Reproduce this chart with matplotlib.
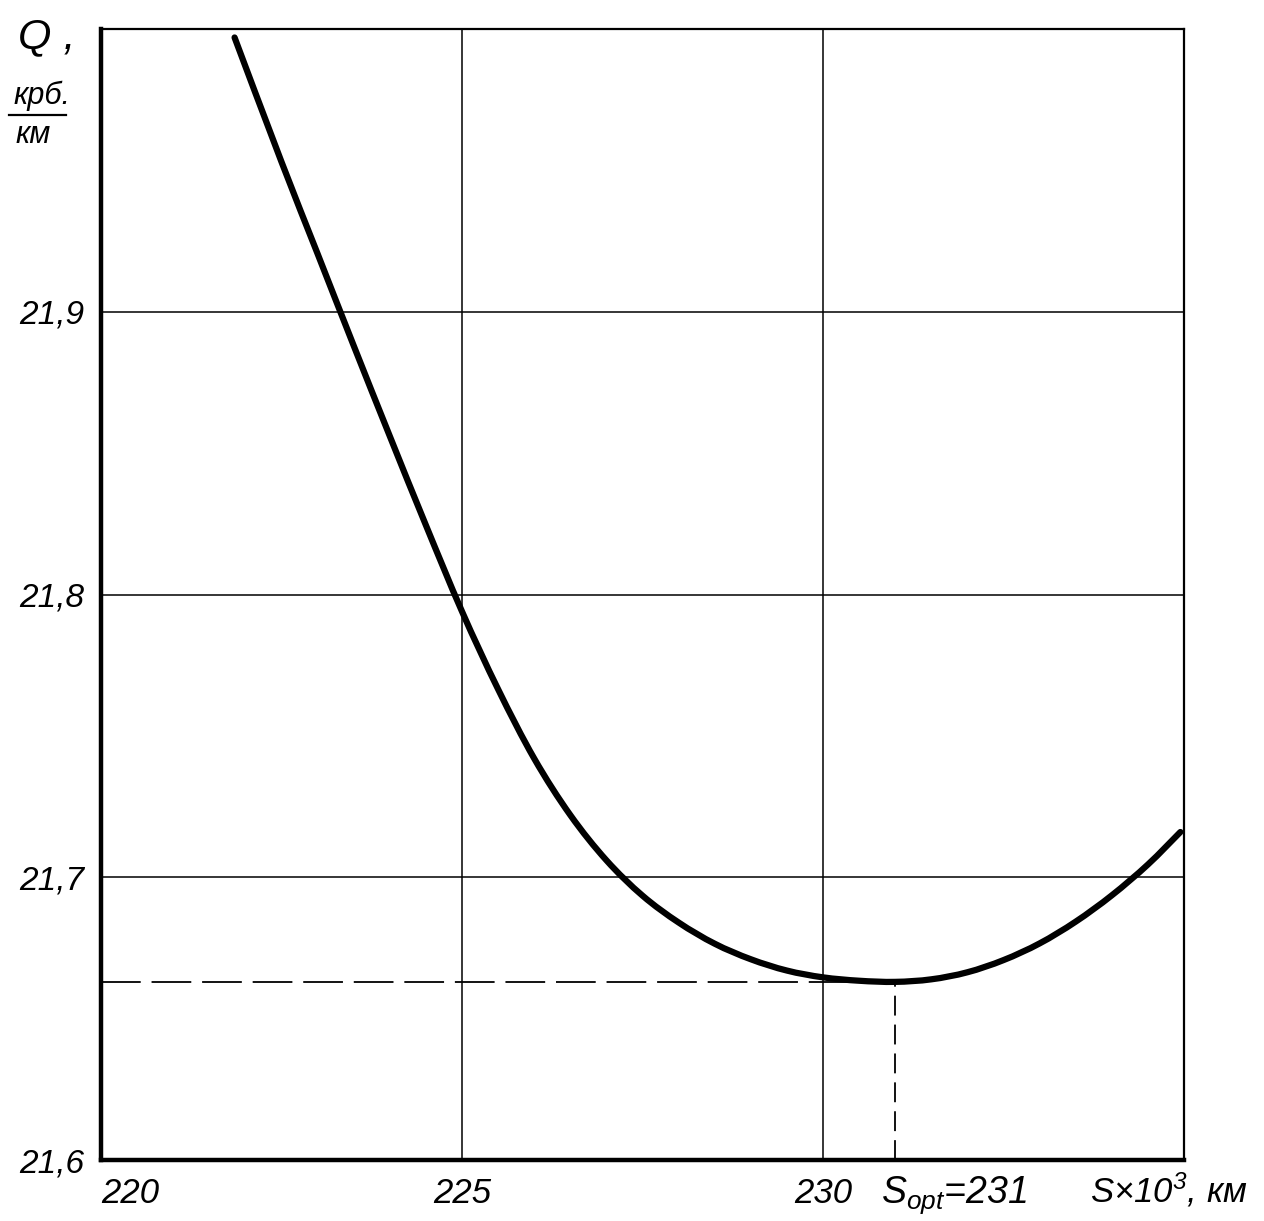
import matplotlib
matplotlib.use("Agg")
import matplotlib.pyplot as plt
from matplotlib.path import Path
from matplotlib.patches import PathPatch

# ---- data -------------------------------------------------------------
S_km = [221.85, 222.5, 223.0, 223.5, 224.0, 224.5, 225.0, 225.5, 226.0,
        226.5, 227.0, 227.5, 228.0, 228.5, 229.0, 229.5, 230.0, 230.5,
        231.0, 231.5, 232.0, 232.5, 233.0, 233.5, 234.0, 234.5, 234.95]
Q_cost = [21.997, 21.953, 21.9205, 21.888, 21.856, 21.8245, 21.794, 21.7665,
          21.742, 21.722, 21.706, 21.6935, 21.684, 21.6765, 21.671, 21.667,
          21.6646, 21.6634, 21.663, 21.6639, 21.6664, 21.6707, 21.6766,
          21.6843, 21.6936, 21.7045, 21.716]
S_opt = 231
Q_min = 21.663

x_ticks = [220, 225, 230]
x_tick_labels = ["220", "225", "230"]
y_ticks = [21.6, 21.7, 21.8, 21.9]
y_tick_labels = ["21,6", "21,7", "21,8", "21,9"]
x_range = (220, 235)
y_range = (21.6, 22.0)

# ---- fonts ------------------------------------------------------------
FONT = "Liberation Sans"
plt.rcParams["font.family"] = [FONT, "DejaVu Sans"]
plt.rcParams["font.style"] = "italic"
plt.rcParams["mathtext.fontset"] = "custom"
plt.rcParams["mathtext.rm"] = f"{FONT}:italic"
plt.rcParams["mathtext.it"] = f"{FONT}:italic"
plt.rcParams["mathtext.sf"] = f"{FONT}:italic"


def smooth_path(xs, ys):
    """Catmull-Rom curve through the given points as cubic Bezier segments."""
    pts = list(zip(xs, ys))
    verts = [pts[0]]
    codes = [Path.MOVETO]
    n = len(pts)
    for i in range(n - 1):
        p0 = pts[i - 1] if i > 0 else pts[i]
        p1 = pts[i]
        p2 = pts[i + 1]
        p3 = pts[i + 2] if i + 2 < n else pts[i + 1]
        c1 = (p1[0] + (p2[0] - p0[0]) / 6, p1[1] + (p2[1] - p0[1]) / 6)
        c2 = (p2[0] - (p3[0] - p1[0]) / 6, p2[1] - (p3[1] - p1[1]) / 6)
        verts += [c1, c2, p2]
        codes += [Path.CURVE4] * 3
    return Path(verts, codes)


W, H = 1264, 1221
fig = plt.figure(figsize=(W / 100, H / 100), dpi=100)
fig.patch.set_facecolor("white")

L, R, T, B = 101, 1184, 29, 1160
ax = fig.add_axes([L / W, 1 - B / H, (R - L) / W, (B - T) / H])
ax.set_xlim(*x_range)
ax.set_ylim(*y_range)

# frame: heavy axes on left/bottom, light border on top/right
for side, lw in (("left", 3.2), ("bottom", 3.2), ("top", 1.6), ("right", 1.6)):
    ax.spines[side].set_linewidth(lw)
    ax.spines[side].set_color("black")

# grid lines
for xv in x_ticks[1:]:
    ax.axvline(xv, color="black", lw=1.1, zorder=1)
for yv in y_ticks[1:]:
    ax.axhline(yv, color="black", lw=1.1, zorder=1)

# optimum markers
ax.plot([x_range[0], S_opt], [Q_min, Q_min], color="black", lw=1.3,
        dashes=(22, 6), zorder=2)
ax.plot([S_opt, S_opt], [y_range[0], Q_min], color="black", lw=1.3,
        dashes=(11, 5), zorder=2)

# cost curve
ax.add_patch(PathPatch(smooth_path(S_km, Q_cost), facecolor="none",
                       edgecolor="black", lw=4.5, capstyle="round",
                       joinstyle="round", zorder=3))

# ticks
ax.tick_params(length=0)
ax.set_xticks(x_ticks)
ax.set_xticklabels(x_tick_labels, fontsize=25)
ax.set_yticks(y_ticks)
ax.set_yticklabels(y_tick_labels, fontsize=24)
ax.tick_params(axis="x", pad=12)
ax.tick_params(axis="y", pad=12)
xt = ax.get_xticklabels()
xt[0].set_horizontalalignment("left")
xt[0].set_x(220.1)

# x-axis annotations
ax.annotate(r"$S_{opt}$=231", xy=(S_opt, 0), xycoords=("data", "axes fraction"),
            xytext=(-10, -10), textcoords="offset points",
            ha="left", va="top", fontsize=27)
ax.annotate(r"$S{\times}10^{3}$, км", xy=(233.7, 0),
            xycoords=("data", "axes fraction"),
            xytext=(0, -8), textcoords="offset points",
            ha="left", va="top", fontsize=25)

# y-axis caption: Q, крб./км
fig.text(18 / W, 1 - 48 / H, "Q ,", fontsize=31, ha="left", va="baseline")
fig.text(14 / W, 1 - 104 / H, "крб.", fontsize=22, ha="left", va="baseline")
fig.add_artist(plt.Line2D([9 / W, 66 / W], [1 - 115 / H, 1 - 115 / H],
                          color="black", lw=1.6))
fig.text(16 / W, 1 - 143 / H, "км", fontsize=22, ha="left", va="baseline")

fig.savefig("out.png", dpi=100, facecolor="white")
